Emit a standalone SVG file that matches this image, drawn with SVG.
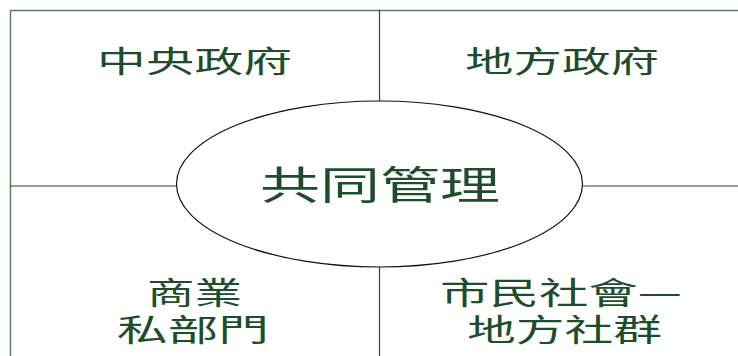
<svg xmlns="http://www.w3.org/2000/svg" width="738" height="356" viewBox="0 0 738 356">
<style>
.lbl{font-family:"Noto Sans CJK TC","Noto Sans CJK SC",sans-serif;fill:#1e4d2b;font-weight:400}
.frame{stroke:#5f7d66;stroke-width:1.5;fill:none}
.div{stroke:#1e4d2b;stroke-width:1.2;fill:none}
</style>
<rect width="738" height="356" fill="#ffffff"/>
<g id="connectors">
<line class="frame" x1="10" y1="10.5" x2="738" y2="10.5"/>
<line class="frame" x1="10.5" y1="10" x2="10.5" y2="356"/>
<line class="div" x1="379.5" y1="10" x2="379.5" y2="101"/>
<line class="div" x1="379.5" y1="267" x2="379.5" y2="356"/>
<line class="div" x1="10" y1="186" x2="177" y2="186"/>
<line class="div" x1="582" y1="186" x2="738" y2="186"/>
</g>
<g id="central-gov">
<text class="lbl" x="97" y="72" font-size="30" textLength="195" lengthAdjust="spacingAndGlyphs">中央政府</text>
</g>
<g id="local-gov">
<text class="lbl" x="465" y="72" font-size="30" textLength="194" lengthAdjust="spacingAndGlyphs">地方政府</text>
</g>
<g id="co-management">
<ellipse cx="379.5" cy="184" rx="203" ry="83" fill="#ffffff" stroke="#111111" stroke-width="1.2"/>
<text class="lbl" x="260" y="199" font-size="39" textLength="240" lengthAdjust="spacingAndGlyphs">共同管理</text>
</g>
<g id="private-sector">
<text class="lbl" x="147" y="304" font-size="31" textLength="95" lengthAdjust="spacingAndGlyphs">商業</text>
<text class="lbl" x="117" y="341" font-size="31" textLength="152" lengthAdjust="spacingAndGlyphs">私部門</text>
</g>
<g id="civil-society">
<text class="lbl" x="440" y="304" font-size="31" textLength="242" lengthAdjust="spacingAndGlyphs">市民社會—</text>
<text class="lbl" x="467" y="341" font-size="31" textLength="195" lengthAdjust="spacingAndGlyphs">地方社群</text>
</g>
</svg>
